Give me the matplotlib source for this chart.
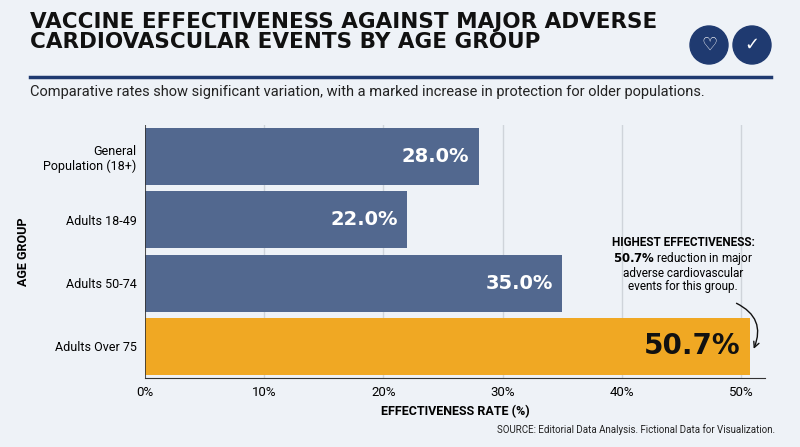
import matplotlib
matplotlib.use("Agg")
import matplotlib.pyplot as plt
from matplotlib.patches import FancyArrowPatch

categories = ["General\nPopulation (18+)", "Adults 18-49", "Adults 50-74", "Adults Over 75"]
values = [28.0, 22.0, 35.0, 50.7]
ticks = [0, 10, 20, 30, 40, 50]

bg = "#eef2f7"
navy = "#1f3a70"
fig = plt.figure(figsize=(8, 4.47), dpi=100, facecolor=bg)
ax = fig.add_axes([145/800, 1-378/447, 620/800, 253/447], facecolor=bg)

colors = ["#52688f"]*3 + ["#f0a823"]
y = list(range(len(categories)))
ax.barh(y, values, height=0.9, color=colors, zorder=2)
ax.set_ylim(3.5, -0.5)
ax.set_xlim(0, 52)
ax.set_xticks(ticks)
ax.set_xticklabels([f"{t}%" for t in ticks], fontsize=9.5, family="Roboto")
ax.set_yticks(y)
ax.set_yticklabels(categories, fontsize=9, family="Roboto")
ax.tick_params(length=0, pad=6)
ax.grid(axis="x", color="#cfd4da", lw=1, zorder=0)
for s in ["top", "right", "left"]:
    ax.spines[s].set_visible(False)
ax.spines["bottom"].set_color("#333333")
ax.axvline(0, color="#333333", lw=1.2, zorder=3)
for i, v in enumerate(values):
    last = i == len(values)-1
    ax.text(v-0.8, i, f"{v:.1f}%", ha="right", va="center", family="DejaVu Sans",
            fontsize=20 if last else 14, fontweight="bold", color="#111111" if last else "white", zorder=4)
ax.set_xlabel("EFFECTIVENESS RATE (%)", fontsize=9, fontweight="bold", family="Roboto", labelpad=4)
ax.set_ylabel("AGE GROUP", fontsize=9, fontweight="bold", family="Roboto", labelpad=10)

ax.text(0.868, 0.51, "HIGHEST EFFECTIVENESS:", transform=ax.transAxes, ha="center", va="bottom",
        fontsize=8.5, fontweight="bold", family="Roboto", zorder=5)
ax.text(0.868, 0.505, "$\\bf{50.7\\%}$ reduction in major\nadverse cardiovascular\nevents for this group.",
        transform=ax.transAxes, ha="center", va="top", fontsize=8.5, family="Roboto", linespacing=1.0, zorder=5)
arr = FancyArrowPatch((0.95, 0.3), (0.98, 0.105), transform=ax.transAxes, connectionstyle="arc3,rad=-0.5",
                      arrowstyle="->", mutation_scale=10, color="#111111", lw=1, zorder=5)
ax.add_patch(arr)

fig.text(30/800, 1-32/447, "VACCINE EFFECTIVENESS AGAINST MAJOR ADVERSE\nCARDIOVASCULAR EVENTS BY AGE GROUP",
         fontsize=15.5, fontweight="bold", family="DejaVu Sans", va="center", color="#111111", linespacing=1.05)
fig.add_artist(plt.Line2D([30/800, 771/800], [1-77/447]*2, color=navy, lw=2.5))
fig.text(30/800, 1-92/447, "Comparative rates show significant variation, with a marked increase in protection for older populations.",
         fontsize=10.5, family="Roboto", va="center", color="#222222")
for cx, sym in [(709, "♡"), (752, "✓")]:
    fig.add_artist(plt.Circle((cx, 447-45), 19, transform=None, color=navy))
    fig.text(cx/800, 1-45/447, sym, color="white", fontsize=13, ha="center", va="center", family="DejaVu Sans")
fig.text(775/800, 1-430/447, "SOURCE: Editorial Data Analysis. Fictional Data for Visualization.",
         fontsize=7, family="Roboto", ha="right", va="center", color="#222222")
fig.savefig("out.png", dpi=100, facecolor=bg)
